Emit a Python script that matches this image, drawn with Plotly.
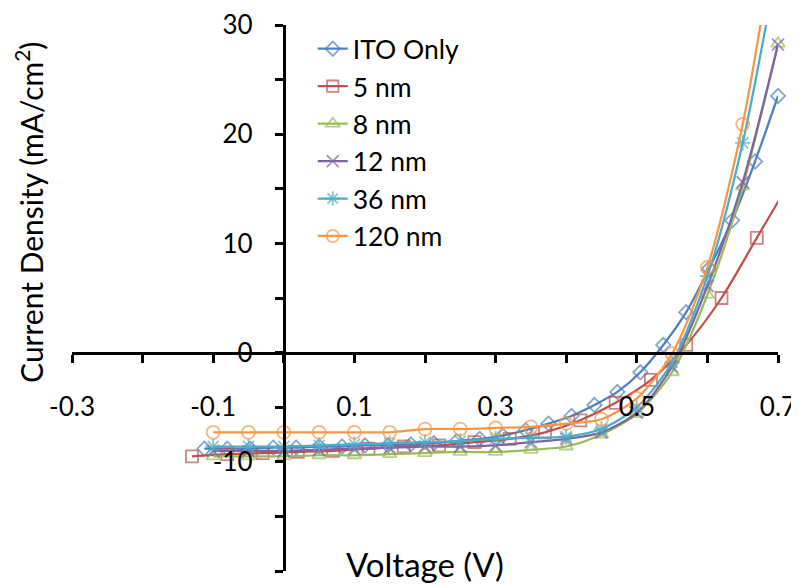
import plotly.graph_objects as go

# ---- data ----
x_ito = [-0.1125, -0.08, -0.0475, -0.015, 0.0175, 0.05, 0.0825, 0.115, 0.1475, 0.18,
         0.2125, 0.245, 0.2775, 0.31, 0.3425, 0.375, 0.4075, 0.44, 0.4725, 0.505,
         0.5375, 0.57, 0.6025, 0.635, 0.6675, 0.7]
y_ito = [-8.8, -8.8, -8.8, -8.7, -8.7, -8.6, -8.6, -8.5, -8.5, -8.4,
         -8.3, -8.1, -7.9, -7.6, -7.1, -6.5, -5.8, -4.8, -3.6, -1.8,
         0.7, 3.7, 7.7, 12.1, 17.5, 23.5]

x_5nm = [-0.13, -0.08, -0.03, 0.02, 0.07, 0.12, 0.17, 0.22, 0.27, 0.32, 0.37,
         0.42, 0.47, 0.52, 0.57, 0.62, 0.67, 0.72]
y_5nm = [-9.5, -9.3, -9.2, -9.1, -9.0, -8.8, -8.6, -8.5, -8.2, -7.9, -7.3,
         -6.2, -4.6, -2.5, 0.7, 5.0, 10.5, 16.0]

x_std = [-0.1, -0.05, 0.0, 0.05, 0.1, 0.15, 0.2, 0.25, 0.3, 0.35, 0.4,
         0.45, 0.5, 0.55, 0.6, 0.65, 0.7]
y_8nm = [-9.5, -9.5, -9.5, -9.4, -9.4, -9.3, -9.2, -9.1, -9.1, -8.9, -8.6,
         -7.5, -5.6, -1.8, 5.3, 15.2, 28.3]
y_12nm = [-9.0, -9.0, -9.0, -8.9, -8.8, -8.7, -8.6, -8.6, -8.5, -8.2, -7.9,
          -7.3, -5.5, -1.3, 6.1, 15.6, 28.2]
y_36nm = [-8.6, -8.6, -8.6, -8.5, -8.4, -8.3, -8.2, -8.1, -7.9, -7.8, -7.7,
          -7.0, -5.0, -0.9, 7.0, 19.2, 36.0]
y_120nm = [-7.3, -7.3, -7.3, -7.3, -7.3, -7.3, -7.0, -7.0, -6.9, -6.8, -6.5,
           -6.1, -4.2, -0.1, 7.8, 20.9, 40.0]

series_names = ["ITO Only", "5 nm", "8 nm", "12 nm", "36 nm", "120 nm"]

x_tick_vals = [-0.3, -0.1, 0.1, 0.3, 0.5, 0.7]
x_tick_text = ["-0.3", "-0.1", "0.1", "0.3", "0.5", "0.7"]
x_minor_vals = [-0.2, 0.0, 0.2, 0.4, 0.6]
y_tick_vals = [-20, -10, 0, 10, 20, 30]
y_tick_text = ["-20", "-10", "0", "10", "20", "30"]
y_minor_vals = [-15, -5, 5, 15, 25]

X_RANGE = [-0.3, 0.7]
Y_RANGE = [-20, 30]

# ---- styles ----
colors = ["#4F81BD", "#C0504D", "#9BBB59", "#8064A2", "#4BACC6", "#F79646"]
symbols = ["diamond-open", "square-open", "triangle-up-open", "x-thin-open",
           "asterisk-open", "circle-open"]
msizes = [11, 12, 12, 12, 13, 13]

xs = [x_ito, x_5nm, x_std, x_std, x_std, x_std]
ys = [y_ito, y_5nm, y_8nm, y_12nm, y_36nm, y_120nm]

fig = go.Figure()
for name, x, y, c, s, ms in zip(series_names, xs, ys, colors, symbols, msizes):
    sizes = [ms if (X_RANGE[0] <= a <= X_RANGE[1] + 1e-9 and Y_RANGE[0] <= b <= Y_RANGE[1]) else 0
             for a, b in zip(x, y)]
    fig.add_trace(go.Scatter(
        x=x, y=y, name=name, mode="lines+markers",
        line=dict(color=c, width=2.25, shape="spline", smoothing=0.8),
        marker=dict(symbol=s, size=sizes, color=c, line=dict(color=c, width=1.8)),
        cliponaxis=False, legendgroup=name,
    ))

font_family = "Lato, 'Open Sans', sans-serif"
tick_style = dict(ticks="outside", ticklen=8, tickwidth=3, tickcolor="black")

# the page body adds an 8px margin, so the figure is 8px smaller and shifted
fig.update_layout(
    width=791, height=578,
    margin=dict(l=64, r=21, t=17, b=15),
    paper_bgcolor="white", plot_bgcolor="white",
    font=dict(family=font_family, color="black"),
    showlegend=True,
    legend=dict(x=0.341, y=1.0, xanchor="left", yanchor="top",
                font=dict(size=26.5, family=font_family), bgcolor="rgba(0,0,0,0)",
                itemwidth=30, tracegroupgap=0),
    xaxis=dict(range=X_RANGE, tickmode="array", tickvals=x_tick_vals, ticktext=x_tick_text,
               minor=dict(tickmode="array", tickvals=x_minor_vals, showgrid=False, **tick_style),
               showgrid=False, zeroline=False, showline=True, linecolor="black",
               linewidth=3, **tick_style,
               anchor="free", position=0.4, ticklabelstandoff=22, automargin=False,
               tickfont=dict(size=26, family=font_family)),
    yaxis=dict(range=Y_RANGE, tickmode="array", tickvals=y_tick_vals, ticktext=y_tick_text,
               minor=dict(tickmode="array", tickvals=y_minor_vals, showgrid=False, **tick_style),
               showgrid=False, zeroline=False, showline=True, linecolor="black",
               linewidth=3, **tick_style,
               anchor="free", position=0.3, ticklabelstandoff=17, automargin=False,
               tickfont=dict(size=26, family=font_family)),
    annotations=[
        dict(text="Voltage (V)", xref="paper", yref="paper", x=0.5, y=0.012,
             xanchor="center", yanchor="middle", showarrow=False,
             font=dict(size=33, family=font_family)),
        dict(text="Current Density (mA/cm<sup>2</sup>)", xref="paper", yref="paper",
             x=-0.06, y=0.657, textangle=-90, xanchor="center", yanchor="middle",
             showarrow=False, font=dict(size=30, family=font_family)),
    ],
)

fig.write_html("out.html")
